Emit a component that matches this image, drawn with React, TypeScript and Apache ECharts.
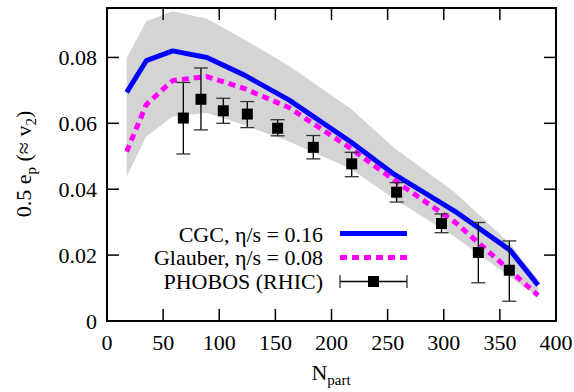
import React, { useEffect, useRef } from "react";
import * as echarts from "echarts";

// Theory curves (hydro), sampled at N_part
const theoryNpart = [17.5, 35, 58.5, 89, 122, 162, 217, 256, 310, 359, 384];
const cgcV2 = [0.0694, 0.079, 0.082, 0.08, 0.0747, 0.0671, 0.0544, 0.0445, 0.0333, 0.0215, 0.0109];
const glauberV2 = [0.0514, 0.0657, 0.073, 0.0742, 0.0706, 0.0648, 0.0524, 0.0427, 0.03, 0.0153, 0.0078];
const bandUpper = [0.0798, 0.091, 0.094, 0.0917, 0.0855, 0.0775, 0.0645, 0.0525, 0.039, 0.0235, 0.0125];
const bandLower = [0.0438, 0.056, 0.0621, 0.0631, 0.0595, 0.0545, 0.0462, 0.037, 0.0255, 0.0134, 0.0072];

// PHOBOS data
const phobosNpart = [68, 83.7, 103.6, 125, 152, 183.8, 218, 258, 298, 330.8, 358.4];
const phobosV2 = [0.0616, 0.0673, 0.0638, 0.0628, 0.0585, 0.0527, 0.0477, 0.0391, 0.0296, 0.0208, 0.0154];
const phobosLow = [0.0507, 0.058, 0.06, 0.0587, 0.0562, 0.0492, 0.0438, 0.0361, 0.0268, 0.0116, 0.006];
const phobosHigh = [0.0724, 0.0768, 0.0676, 0.0666, 0.0611, 0.0563, 0.0512, 0.042, 0.0325, 0.0299, 0.0243];

// Axis ticks and labels
const xTickValues = [0, 50, 100, 150, 200, 250, 300, 350, 400];
const xTickLabels = ["0", "50", "100", "150", "200", "250", "300", "350", "400"];
const yTickValues = [0, 0.02, 0.04, 0.06, 0.08];
const yTickLabels = ["0", "0.02", "0.04", "0.06", "0.08"];
const X_MIN = 0;
const X_MAX = 400;
const Y_MIN = 0;
const Y_MAX = 0.095;

const legendLabels = ["CGC, \u03b7/s = 0.16", "Glauber, \u03b7/s = 0.08", "PHOBOS (RHIC)"];
const xTitle = "N{sub|part}";
const yTitle = "0.5 e{sub|p} (\u2248 v{sub|2})";

const FONT = "Liberation Serif";
const TICK = 12;

const mkRich = () => ({
  sub: { fontSize: 15, lineHeight: 15, verticalAlign: "bottom", fontFamily: FONT, fill: "#000" },
});

export default function App() {
  const ref = useRef<HTMLDivElement>(null);
  useEffect(() => {
    if (!ref.current) return;
    const chart = echarts.init(ref.current, null, { renderer: "svg" });
    const option: any = {
      animation: false,
      grid: {
        left: 107, right: 18, top: 8, bottom: 71, outerBoundsMode: "none",
        show: true, borderColor: "#000", borderWidth: 2, backgroundColor: "rgba(0,0,0,0)",
      },
      xAxis: {
        type: "value", min: X_MIN, max: X_MAX,
        axisLine: { show: false }, axisTick: { show: false }, axisLabel: { show: false }, splitLine: { show: false },
      },
      yAxis: {
        type: "value", min: Y_MIN, max: Y_MAX,
        axisLine: { show: false }, axisTick: { show: false }, axisLabel: { show: false }, splitLine: { show: false },
      },
      series: [
        {
          type: "custom",
          z: 1,
          silent: true,
          data: theoryNpart.map((n, i) => [n, bandLower[i], bandUpper[i]]),
          encode: { x: 0, y: [1, 2] },
          renderItem: (params: any, api: any) => {
            if (params.dataIndex !== 0) return { type: "group", children: [] };
            const up = theoryNpart.map((n, i) => api.coord([n, bandUpper[i]]));
            const lo = theoryNpart.map((n, i) => api.coord([n, bandLower[i]])).reverse();
            return {
              type: "polygon",
              shape: { points: up.concat(lo) },
              style: { fill: "#d4d4d4", stroke: "none" },
            };
          },
        },
        {
          type: "line", z: 3, name: legendLabels[0],
          data: theoryNpart.map((n, i) => [n, cgcV2[i]]),
          showSymbol: false, symbol: "none",
          lineStyle: { color: "#0000ff", width: 5 },
        },
        {
          type: "line", z: 4, name: legendLabels[1],
          data: theoryNpart.map((n, i) => [n, glauberV2[i]]),
          showSymbol: false, symbol: "none",
          lineStyle: { color: "#ff00ff", width: 5, type: [7, 5] },
        },
        {
          type: "custom", z: 5, name: legendLabels[2],
          data: phobosNpart.map((n, i) => [n, phobosLow[i], phobosHigh[i]]),
          encode: { x: 0, y: [1, 2] },
          renderItem: (params: any, api: any) => {
            const x = api.value(0);
            const pLo = api.coord([x, api.value(1)]);
            const pHi = api.coord([x, api.value(2)]);
            const hw = 7;
            return {
              type: "group",
              children: [
                { type: "line", shape: { x1: pLo[0], y1: pLo[1], x2: pHi[0], y2: pHi[1] }, style: { stroke: "#000", lineWidth: 1.3 } },
                { type: "line", shape: { x1: pLo[0] - hw, y1: pLo[1], x2: pLo[0] + hw, y2: pLo[1] }, style: { stroke: "#333", lineWidth: 1.3 } },
                { type: "line", shape: { x1: pHi[0] - hw, y1: pHi[1], x2: pHi[0] + hw, y2: pHi[1] }, style: { stroke: "#333", lineWidth: 1.3 } },
              ],
            };
          },
        },
        {
          type: "scatter", z: 6,
          data: phobosNpart.map((n, i) => [n, phobosV2[i]]),
          symbol: "rect", symbolSize: 11,
          itemStyle: { color: "#000", opacity: 1 },
        },
        // x-axis ticks (bottom and mirrored top) and labels
        {
          type: "custom", z: 8, silent: true,
          data: xTickValues.map((v) => [v, Y_MIN]),
          encode: { x: 0, y: 1 },
          renderItem: (params: any, api: any) => {
            const v = api.value(0);
            const b = api.coord([v, Y_MIN]);
            const t = api.coord([v, Y_MAX]);
            return {
              type: "group",
              children: [
                { type: "line", shape: { x1: b[0], y1: b[1], x2: b[0], y2: b[1] - TICK }, style: { stroke: "#000", lineWidth: 1.5 } },
                { type: "line", shape: { x1: t[0], y1: t[1], x2: t[0], y2: t[1] + TICK }, style: { stroke: "#000", lineWidth: 1.5 } },
                {
                  type: "text", x: b[0], y: b[1] + 21,
                  style: { text: xTickLabels[params.dataIndex], fontFamily: FONT, fontSize: 22, fill: "#000", align: "center", verticalAlign: "middle" },
                },
              ],
            };
          },
        },
        // y-axis ticks (left and mirrored right) and labels
        {
          type: "custom", z: 8, silent: true,
          data: yTickValues.map((v) => [X_MIN, v]),
          encode: { x: 0, y: 1 },
          renderItem: (params: any, api: any) => {
            const v = api.value(1);
            const l = api.coord([X_MIN, v]);
            const r = api.coord([X_MAX, v]);
            return {
              type: "group",
              children: [
                { type: "line", shape: { x1: l[0], y1: l[1], x2: l[0] + TICK, y2: l[1] }, style: { stroke: "#000", lineWidth: 1.5 } },
                { type: "line", shape: { x1: r[0], y1: r[1], x2: r[0] - TICK, y2: r[1] }, style: { stroke: "#000", lineWidth: 1.5 } },
                {
                  type: "text", x: l[0] - 10, y: l[1],
                  style: { text: yTickLabels[params.dataIndex], fontFamily: FONT, fontSize: 22, fill: "#000", align: "right", verticalAlign: "middle" },
                },
              ],
            };
          },
        },
      ],
      graphic: [
        {
          type: "text", x: 331, y: 372,
          style: { text: xTitle, fontFamily: FONT, fontSize: 22, lineHeight: 30, fill: "#000", align: "center", verticalAlign: "middle", rich: mkRich() },
        },
        {
          type: "text", x: 23, y: 164, rotation: Math.PI / 2,
          style: { text: yTitle, fontFamily: FONT, fontSize: 22, lineHeight: 30, fill: "#000", align: "center", verticalAlign: "middle", rich: mkRich() },
        },
        { type: "text", x: 323, y: 234, style: { text: legendLabels[0], fontFamily: FONT, fontSize: 22, fill: "#000", align: "right", verticalAlign: "middle" } },
        { type: "text", x: 323, y: 257.5, style: { text: legendLabels[1], fontFamily: FONT, fontSize: 22, fill: "#000", align: "right", verticalAlign: "middle" } },
        { type: "text", x: 323, y: 281, style: { text: legendLabels[2], fontFamily: FONT, fontSize: 22, fill: "#000", align: "right", verticalAlign: "middle" } },
        { type: "line", shape: { x1: 340, y1: 233.5, x2: 407, y2: 233.5 }, style: { stroke: "#0000ff", lineWidth: 5 } },
        { type: "line", shape: { x1: 340, y1: 257.5, x2: 407, y2: 257.5 }, style: { stroke: "#ff00ff", lineWidth: 5, lineDash: [7, 5] } },
        { type: "line", shape: { x1: 340, y1: 281.5, x2: 407, y2: 281.5 }, style: { stroke: "#000", lineWidth: 1.3 } },
        { type: "line", shape: { x1: 340, y1: 275, x2: 340, y2: 288 }, style: { stroke: "#333", lineWidth: 1.3 } },
        { type: "line", shape: { x1: 407, y1: 275, x2: 407, y2: 288 }, style: { stroke: "#333", lineWidth: 1.3 } },
        { type: "rect", shape: { x: 368, y: 276, width: 11, height: 11 }, style: { fill: "#000" } },
      ],
    };
    chart.setOption(option);
    return () => chart.dispose();
  }, []);
  return (
    <div
      ref={ref}
      style={{ position: "fixed", left: 0, top: 0, width: 574, height: 392, background: "#fff" }}
    />
  );
}
